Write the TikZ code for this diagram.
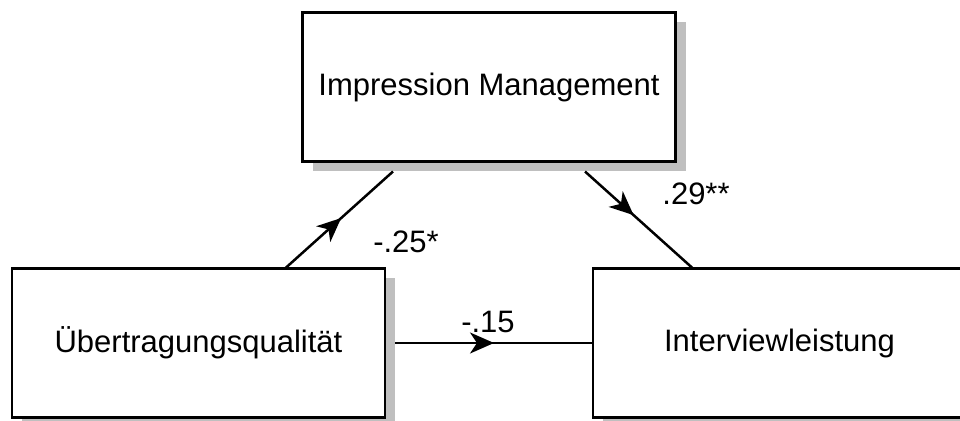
\documentclass[tikz,border=0pt]{standalone}
\usepackage{fontspec}
\setmainfont{Liberation Sans}
\usetikzlibrary{arrows.meta, positioning, calc, shadows, decorations.markings}

\begin{document}
\begin{tikzpicture}[
  x=1pt, y=1pt,
  font=\fontsize{31}{37}\selectfont,
  box/.style={rectangle, draw, line width=2.8pt, fill=white, minimum width=373pt, minimum height=149pt, outer sep=0pt,
    drop shadow={shadow xshift=10pt, shadow yshift=-10pt, fill=black!25, opacity=1}},
  effect/.style={line width=2.5pt, postaction={decorate},
    decoration={markings, mark=at position #1 with {\arrow{Stealth[length=24pt, width=21pt, inset=7pt]}}}},
  effect/.default=0.5
]
\useasboundingbox (0,0) rectangle (960,420);
\clip (0,0) rectangle (960,420);

\node[box] (uq) at (198.5,77) {Übertragungsqualität};
\node[box, right=208pt of uq] (il) {Interviewleistung};
\node[box] (im) at ($(uq)!0.5!(il)+(0,256)$) {Impression Management};

\draw[effect=0.52] ([xshift=86.5pt]uq.north) -- ([shift={(-96pt,-10pt)}]im.south) node[midway, xshift=67pt, yshift=-21.5pt] (b1) {-.25*};
\draw[effect=0.45] ([shift={(96pt,-10pt)}]im.south) -- ([xshift=-86.5pt]il.north) node[midway, xshift=57pt, yshift=26pt] (b2) {.29**};
\draw[effect=0.5] ([xshift=10pt]uq.east) -- (il.west) node[midway, xshift=-6pt, yshift=21pt] (b3) {-.15};

\end{tikzpicture}
\end{document}
